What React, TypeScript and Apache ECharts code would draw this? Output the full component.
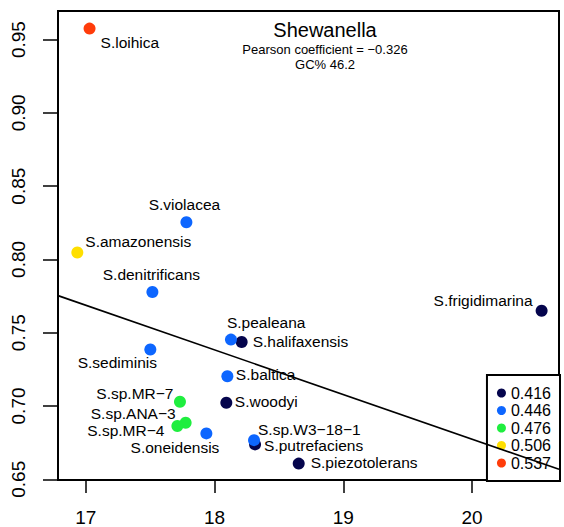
import React, { useEffect, useRef } from "react";
import * as echarts from "echarts";

const FONT = "'Liberation Sans', Arial, Helvetica, sans-serif";

// Species data
const names = [
  "S.loihica", "S.violacea", "S.amazonensis", "S.denitrificans", "S.pealeana",
  "S.halifaxensis", "S.frigidimarina", "S.sediminis", "S.baltica", "S.woodyi",
  "S.sp.MR\u22127", "S.sp.ANA\u22123", "S.sp.MR\u22124", "S.oneidensis",
  "S.sp.W3\u221218\u22121", "S.putrefaciens", "S.piezotolerans",
];
const xValues = [
  17.03, 17.782, 16.935, 17.518, 18.128,
  18.211, 20.540, 17.502, 18.100, 18.092,
  17.732, 17.776, 17.712, 17.937,
  18.307, 18.315, 18.654,
];
const yValues = [
  0.9575, 0.8254, 0.8047, 0.7778, 0.7453,
  0.7437, 0.7650, 0.7385, 0.7203, 0.7022,
  0.7029, 0.6886, 0.6863, 0.6813,
  0.6767, 0.6738, 0.6607,
];
// index into levelNames
const levelIndex = [4, 1, 3, 1, 1, 0, 0, 1, 1, 0, 2, 2, 2, 1, 1, 0, 0];

const levelNames = ["0.416", "0.446", "0.476", "0.506", "0.537"];
const levelColors = ["#05054d", "#0d66ff", "#1fee3f", "#ffdf00", "#ff3c0a"];

// Regression line endpoints (at the plot edges)
const lineX = [16.785, 20.675];
const lineY = [0.7753, 0.6568];

const xTicks = [17, 18, 19, 20];
const yTicks = [0.65, 0.7, 0.75, 0.8, 0.85, 0.9, 0.95];

// Label placement: [align, dx, dy] relative to the point centre (pixels)
const labelPlacement: [string, number, number][] = [
  ["left", 11, 14], ["center", -2, -18], ["left", 8, -11], ["center", -1, -17], ["left", -4, -17],
  ["left", 11, 0], ["right", -9, -10], ["center", -33, 13], ["left", 8.5, -1.5], ["left", 8.5, -1.5],
  ["right", -6.5, -8], ["right", -10, -9], ["right", -13, 4], ["right", 13, 14],
  ["left", 4, -11], ["left", 9, 1], ["left", 12, -1.5],
];

const SYM = 12;

export default function App() {
  const ref = useRef<HTMLDivElement>(null);
  useEffect(() => {
    if (!ref.current) return;
    const chart = echarts.init(ref.current, undefined, { renderer: "svg" });

    const scatterSeries = levelNames.map((lv, li) => ({
      type: "scatter",
      name: lv,
      symbol: "circle",
      symbolSize: SYM,
      itemStyle: { color: levelColors[li], opacity: 1 },
      z: 2,
      data: names
        .map((n, i) => ({ n, i }))
        .filter(({ i }) => levelIndex[i] === li)
        .map(({ n, i }) => {
          const [align, dx, dy] = labelPlacement[i];
          return {
            name: n,
            value: [xValues[i], yValues[i]],
            label: {
              show: true,
              position: [SYM / 2 + dx, SYM / 2 + dy],
              align,
              verticalAlign: "middle",
              formatter: "{b}",
              fontSize: 15.5,
              lineHeight: 15,
              color: "#000",
              fontFamily: FONT,
            },
          };
        }),
    }));

    chart.setOption({
      animation: false,
      backgroundColor: "#fff",
      title: {
        text: "Shewanella",
        subtext: "Pearson coefficient = \u22120.326\nGC% 46.2",
        left: 325,
        top: 20,
        textAlign: "center",
        padding: 0,
        itemGap: 2,
        textStyle: { fontSize: 20, fontWeight: "normal", color: "#000", fontFamily: FONT, lineHeight: 20 },
        subtextStyle: { fontSize: 13, color: "#000", fontFamily: FONT, lineHeight: 15 },
      },
      legend: {
        data: levelNames,
        orient: "vertical",
        right: 4,
        top: 375,
        padding: [10, 9, 10, 10],
        itemWidth: 9,
        itemHeight: 9,
        itemGap: 1.5,
        icon: "circle",
        borderColor: "#000",
        borderWidth: 2,
        backgroundColor: "#fff",
        textStyle: { fontSize: 16, lineHeight: 16, color: "#000", fontFamily: FONT },
        selectedMode: false,
      },
      grid: {
        left: 58,
        right: 5,
        top: 11,
        bottom: 46,
        show: true,
        borderColor: "#000",
        borderWidth: 2,
        backgroundColor: "transparent",
      },
      xAxis: {
        type: "value",
        min: lineX[0],
        max: lineX[1],
        splitLine: { show: false },
        axisLine: { show: true, onZero: false, lineStyle: { color: "#000", width: 2 } },
        axisTick: { show: true, customValues: xTicks, length: 13, lineStyle: { color: "#000", width: 1.5 } },
        axisLabel: {
          customValues: xTicks,
          fontSize: 19,
          color: "#000",
          fontFamily: FONT,
          margin: 28,
          formatter: (v: number) => String(v),
        },
      },
      yAxis: {
        type: "value",
        min: 0.6495,
        max: 0.9695,
        splitLine: { show: false },
        axisLine: { show: true, onZero: false, lineStyle: { color: "#000", width: 2 } },
        axisTick: { show: true, customValues: yTicks, length: 15, lineStyle: { color: "#000", width: 1.5 } },
        axisLabel: {
          customValues: yTicks,
          rotate: 90,
          fontSize: 19,
          color: "#000",
          fontFamily: FONT,
          margin: 30,
          formatter: (v: number) => v.toFixed(2),
        },
      },
      series: [
        ...scatterSeries,
        {
          type: "line",
          name: "fit",
          data: [[lineX[0], lineY[0]], [lineX[1], lineY[1]]],
          symbol: "none",
          silent: true,
          z: 6,
          lineStyle: { color: "#000", width: 1.6 },
        },
      ],
    });
    return () => chart.dispose();
  }, []);
  return (
    <div
      ref={ref}
      style={{ position: "fixed", left: 0, top: 0, width: 564, height: 527 }}
    />
  );
}
